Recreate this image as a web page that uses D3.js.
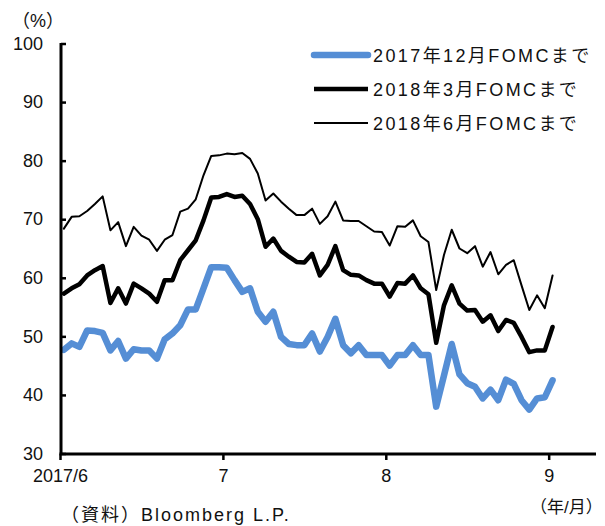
<!DOCTYPE html>
<html>
<head>
<meta charset="utf-8">
<script src="https://cdnjs.cloudflare.com/ajax/libs/d3/7.8.5/d3.min.js"></script>
<style>
  body { margin: 0; background: #fff; }
  text { font-family: "Liberation Sans", "Noto Sans CJK JP", sans-serif; fill: #111; }
</style>
</head>
<body>
<div id="chart"></div>
<script>
// series names (legend)
var seriesNames = ["2017年12月FOMCまで", "2018年3月FOMCまで", "2018年6月FOMCまで"];

// one value per business day, 2017/6/1 .. 2017/9/1 (%)
var dec2017 = [47.7, 48.8, 48.2, 51.0, 50.9, 50.6, 47.6, 49.2, 46.2, 47.8, 47.6, 47.6, 46.2, 49.5, 50.5, 51.9,
  54.6, 54.6, 58.2, 61.8, 61.8, 61.7, 59.6, 57.6, 58.2, 54.2, 52.5, 54.2, 49.9, 48.7, 48.5, 48.5,
  50.5, 47.4, 49.9, 53.0, 48.5, 47.1, 48.5, 46.8, 46.8, 46.8, 45.0, 46.8, 46.8, 48.5, 46.8, 46.8,
  38.0, 43.3, 48.7, 43.5, 42.0, 41.4, 39.4, 40.9, 39.1, 42.6, 41.9, 39.1, 37.5, 39.4, 39.6, 42.5];
var mar2018 = [57.3, 58.2, 58.9, 60.4, 61.3, 62.0, 55.7, 58.2, 55.6, 59.0, 58.2, 57.3, 55.9, 59.6, 59.6, 63.0,
  64.7, 66.4, 69.8, 73.7, 73.8, 74.3, 73.8, 74.0, 72.6, 70.0, 65.3, 66.7, 64.6, 63.6, 62.7, 62.6,
  64.1, 60.4, 62.2, 65.4, 61.3, 60.5, 60.4, 59.6, 59.0, 59.0, 56.8, 59.1, 59.0, 60.4, 58.2, 57.2,
  48.9, 55.3, 58.7, 55.6, 54.4, 54.5, 52.5, 53.6, 50.9, 52.8, 52.3, 49.9, 47.3, 47.6, 47.6, 51.6];
var jun2018 = [68.4, 70.4, 70.5, 71.4, 72.6, 73.9, 68.1, 69.5, 65.4, 68.7, 67.2, 66.5, 64.6, 66.5, 67.3, 71.3,
  71.8, 73.4, 77.5, 80.8, 80.9, 81.2, 81.1, 81.3, 80.3, 77.8, 73.2, 74.4, 73.0, 71.8, 70.7, 70.7,
  71.8, 69.2, 70.5, 73.0, 69.8, 69.7, 69.7, 68.8, 67.9, 67.8, 65.5, 68.8, 68.7, 69.8, 67.1, 66.1,
  57.9, 63.9, 68.2, 65.0, 64.2, 65.4, 61.9, 64.4, 60.6, 62.2, 63.0, 58.7, 54.5, 57.0, 54.8, 60.4];

// month ticks sit on category boundaries (every 21 business days)
var monthTicks = [-0.5, 20.5, 41.5, 62.5];
var monthLabels = ["2017/6", "7", "8", "9"];
var yTicks = [30, 40, 50, 60, 70, 80, 90, 100];

var series = [
  {name: seriesNames[0], values: dec2017, color: "#558ed5", width: 6.5},
  {name: seriesNames[1], values: mar2018, color: "#000", width: 4.5},
  {name: seriesNames[2], values: jun2018, color: "#000", width: 2}
];

var W = 605, H = 526;
var svg = d3.select("#chart").append("svg")
    .attr("width", W)
    .attr("height", H);

var x = d3.scaleLinear().domain([-0.5, 68.6]).range([60, 596]);
var y = d3.scaleLinear().domain([30, 100]).range([453.5, 43.5]);

// lines
var line = d3.line()
    .x(function(d, i) { return x(i); })
    .y(function(d) { return y(d); });

svg.selectAll(".series")
    .data(series)
  .enter().append("path")
    .attr("class", "series")
    .attr("fill", "none")
    .attr("stroke", function(d) { return d.color; })
    .attr("stroke-width", function(d) { return d.width; })
    .attr("stroke-linejoin", "round")
    .attr("stroke-linecap", "round")
    .attr("d", function(d) { return line(d.values); });

// y axis, ticks pointing inward
var yAxis = d3.axisLeft(y)
    .tickValues(yTicks)
    .tickSize(-5)
    .tickPadding(18)
    .tickFormat(d3.format("d"));

var gy = svg.append("g")
    .attr("transform", "translate(61,0)")
    .call(yAxis);
gy.select(".domain").attr("stroke", "#000").attr("stroke-width", 3).attr("d", "M0,43V454");
gy.selectAll(".tick line").attr("stroke", "#000").attr("stroke-width", 2.5);
gy.selectAll(".tick text").style("font-size", "18px").attr("fill", "#111");

// x axis
var xAxis = d3.axisBottom(x)
    .tickValues(monthTicks)
    .tickSize(6)
    .tickPadding(9)
    .tickFormat(function(d, i) { return monthLabels[i]; });

var gx = svg.append("g")
    .attr("transform", "translate(0,454)")
    .call(xAxis);
gx.select(".domain").attr("stroke", "#000").attr("stroke-width", 3).attr("d", "M59.5,0H596");
gx.selectAll(".tick line").attr("stroke", "#000").attr("stroke-width", 2.5);
gx.selectAll(".tick text").style("font-size", "18px").attr("fill", "#111");

// unit labels and source
svg.append("text").attr("x", 12).attr("y", 27).style("font-size", "18px").text("（%）");
svg.append("text").attr("x", 530).attr("y", 513).style("font-size", "17px").text("（年/月）");
svg.append("text").attr("x", 61).attr("y", 521).style("font-size", "18px")
    .style("letter-spacing", "2px").text("（資料）Bloomberg L.P.");

// legend
var legend = svg.selectAll(".legend")
    .data(series)
  .enter().append("g")
    .attr("class", "legend")
    .attr("transform", function(d, i) { return "translate(314," + (55 + i * 34) + ")"; });

legend.append("line")
    .attr("x1", 0).attr("x2", 54)
    .attr("stroke", function(d) { return d.color; })
    .attr("stroke-width", function(d) { return d.width; })
    .attr("stroke-linecap", function(d, i) { return i == 0 ? "round" : "butt"; });

legend.append("text")
    .attr("x", 59)
    .attr("y", 6.5)
    .style("font-size", "18px")
    .style("letter-spacing", "2.4px")
    .text(function(d) { return d.name; });
</script>
</body>
</html>
